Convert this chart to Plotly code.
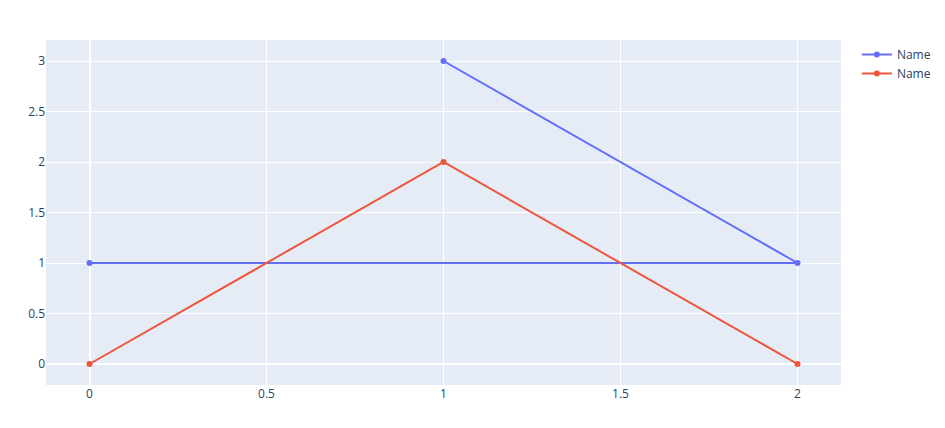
import plotly.graph_objects as go

blue_x = [0, 2, 1]
blue_y = [1, 1, 3]
red_x = [0, 1, 2]
red_y = [0, 2, 0]

fig = go.Figure()
fig.add_trace(go.Scatter(x=blue_x, y=blue_y, mode="lines+markers", name="Name"))
fig.add_trace(go.Scatter(x=red_x, y=red_y, mode="lines+markers", name="Name"))
fig.update_layout(width=929, height=412,
                  margin=dict(l=38, r=96, t=32, b=35, autoexpand=False))
fig.write_html("out.html")
